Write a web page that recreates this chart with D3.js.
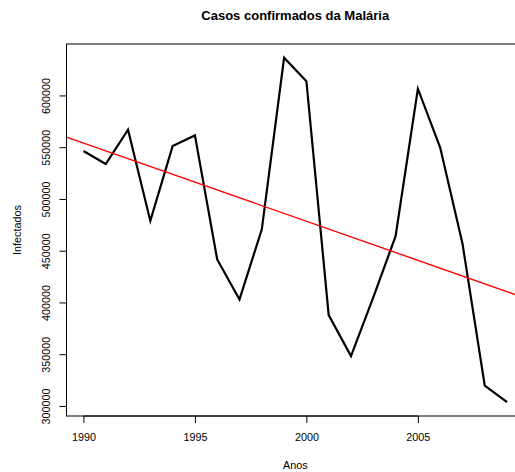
<!DOCTYPE html>
<html>
<head>
<meta charset="utf-8">
<script src="https://cdn.jsdelivr.net/npm/d3@7"></script>
<style>
  html, body { margin: 0; padding: 0; background: #fff; }
  svg { display: block; }
  text { font-family: "Liberation Sans", Arial, Helvetica, sans-serif; fill: #000; }
</style>
</head>
<body>
<script>
// ---- data ----
const years = [1990,1991,1992,1993,1994,1995,1996,1997,1998,1999,2000,2001,2002,2003,2004,2005,2006,2007,2008,2009];
const infectados = [546300,533700,566900,478800,551100,561400,441500,402900,470700,636400,613800,387800,348200,405000,464000,606500,549600,457000,319600,303600];
const xTicks = [1990,1995,2000,2005];
const yTicks = [300000,350000,400000,450000,500000,550000,600000];
const title = "Casos confirmados da Malária";
const xLabel = "Anos";
const yLabel = "Infectados";

const W = 515, H = 472;
const plot = { left: 66.5, right: 524, top: 44, bottom: 416 };
const FS = 10.8;

function pad(ext) { const d = (ext[1] - ext[0]) * 0.04; return [ext[0] - d, ext[1] + d]; }

const x = d3.scaleLinear().domain(pad(d3.extent(years))).range([plot.left, plot.right]);
const y = d3.scaleLinear().domain(pad(d3.extent(infectados))).range([plot.bottom, plot.top]);

// linear regression (abline(lm(...)))
const mx = d3.mean(years), my = d3.mean(infectados);
let sxy = 0, sxx = 0;
years.forEach((v, i) => { sxy += (v - mx) * (infectados[i] - my); sxx += (v - mx) * (v - mx); });
const slope = sxy / sxx, intercept = my - slope * mx;

const svg = d3.select("body").append("svg").attr("width", W).attr("height", H);

svg.append("defs").append("clipPath").attr("id", "clip")
  .append("rect").attr("x", plot.left).attr("y", plot.top)
  .attr("width", plot.right - plot.left).attr("height", plot.bottom - plot.top);

const data = years.map((v, i) => [v, infectados[i]]);

// series line
svg.append("path")
  .datum(data)
  .attr("clip-path", "url(#clip)")
  .attr("fill", "none")
  .attr("stroke", "#000")
  .attr("stroke-width", 2.2)
  .attr("stroke-linejoin", "miter")
  .attr("d", d3.line().x(d => x(d[0])).y(d => y(d[1])));

// regression line
const xd = x.domain();
svg.append("line")
  .attr("clip-path", "url(#clip)")
  .attr("x1", x(xd[0])).attr("y1", y(intercept + slope * xd[0]))
  .attr("x2", x(xd[1])).attr("y2", y(intercept + slope * xd[1]))
  .attr("stroke", "#ff0000").attr("stroke-width", 1.4);

// box
svg.append("rect")
  .attr("x", plot.left).attr("y", plot.top)
  .attr("width", plot.right - plot.left).attr("height", plot.bottom - plot.top)
  .attr("fill", "none").attr("stroke", "#000").attr("stroke-width", 1);

// x axis
const xAxis = d3.axisBottom(x).tickValues(xTicks).tickSize(7).tickPadding(10).tickFormat(d3.format("d"));
const gx = svg.append("g").attr("transform", `translate(0,${plot.bottom})`).call(xAxis);
gx.select(".domain").attr("d", `M${x(xTicks[0])},0H${x(xTicks[xTicks.length-1])}`).attr("stroke", "#000");
gx.selectAll(".tick line").attr("stroke", "#000");
gx.selectAll(".tick text").attr("font-size", FS).attr("font-family", "Liberation Sans, Arial, sans-serif").attr("fill", "#000");

// y axis (rotated labels like R)
const yAxis = d3.axisLeft(y).tickValues(yTicks).tickSize(7).tickFormat(d3.format("d"));
const gy = svg.append("g").attr("transform", `translate(${plot.left},0)`).call(yAxis);
gy.select(".domain").attr("d", `M0,${y(yTicks[0])}V${y(yTicks[yTicks.length-1])}`).attr("stroke", "#000");
gy.selectAll(".tick line").attr("stroke", "#000");
gy.selectAll(".tick text")
  .attr("font-size", FS).attr("font-family", "Liberation Sans, Arial, sans-serif").attr("fill", "#000")
  .attr("x", null).attr("dy", null)
  .attr("text-anchor", "middle")
  .attr("transform", "translate(-17,0) rotate(-90)");

// title
svg.append("text")
  .attr("x", (plot.left + plot.right) / 2).attr("y", 20)
  .attr("text-anchor", "middle").attr("font-size", 13).attr("font-weight", "bold")
  .text(title);

// x label
svg.append("text")
  .attr("x", (plot.left + plot.right) / 2).attr("y", 469)
  .attr("text-anchor", "middle").attr("font-size", FS)
  .text(xLabel);

// y label
svg.append("text")
  .attr("transform", `translate(21,${(plot.top + plot.bottom) / 2}) rotate(-90)`)
  .attr("text-anchor", "middle").attr("font-size", FS)
  .text(yLabel);
</script>
</body>
</html>
